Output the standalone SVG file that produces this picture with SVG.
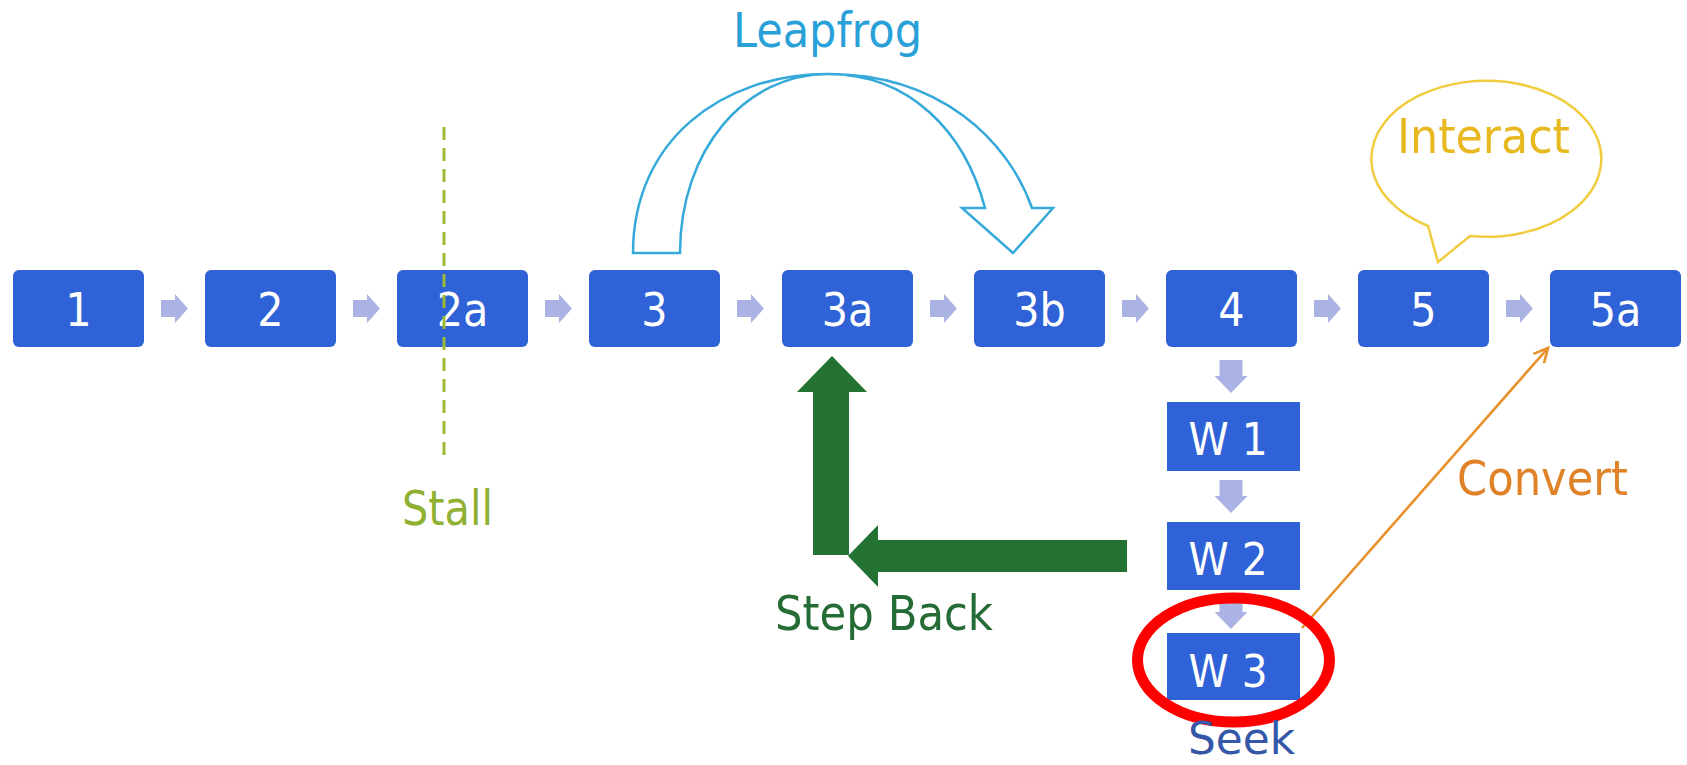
<svg xmlns="http://www.w3.org/2000/svg" xmlns:xlink="http://www.w3.org/1999/xlink" width="1687" height="765" viewBox="0 0 1687 765">
<style>
.box{fill:#2f62d6}
.bt{font-family:"DejaVu Sans Condensed","DejaVu Sans",sans-serif;font-stretch:condensed;font-size:46px;fill:#ffffff;text-anchor:middle}
.wt{font-family:"DejaVu Sans Condensed","DejaVu Sans",sans-serif;font-stretch:condensed;font-size:45px;fill:#ffffff;text-anchor:middle}
.lbl{font-family:"DejaVu Sans Condensed","DejaVu Sans",sans-serif;font-stretch:condensed;font-size:48px}
.sa{fill:#aab3e4}
</style>
<defs>
<path id="ha" d="M0,-8.5 H14 V-14.5 L27,0 L14,14.5 V8.5 H0 Z"/>
<path id="va" d="M-11.5,0 H11.5 V16 H16.5 L0,33 L-16.5,16 H-11.5 Z"/>
<marker id="openhead" viewBox="0 0 20 20" refX="17" refY="10" markerWidth="20" markerHeight="20" markerUnits="userSpaceOnUse" orient="auto">
<path d="M3,3 L17,10 L3,17" fill="none" stroke="#e8902a" stroke-width="2.6" stroke-linejoin="miter"/>
</marker>
</defs>
<rect width="1687" height="765" fill="#ffffff"/>

<g id="node-1"><rect class="box" x="13" y="270" width="131" height="77" rx="6"/><text class="bt" x="78.5" y="326">1</text></g>
<g id="node-2"><rect class="box" x="205" y="270" width="131" height="77" rx="6"/><text class="bt" x="270.5" y="326">2</text></g>
<g id="node-2a"><rect class="box" x="397" y="270" width="131" height="77" rx="6"/><text class="bt" x="462.5" y="326">2a</text></g>
<g id="node-3"><rect class="box" x="589" y="270" width="131" height="77" rx="6"/><text class="bt" x="654.5" y="326">3</text></g>
<g id="node-3a"><rect class="box" x="782" y="270" width="131" height="77" rx="6"/><text class="bt" x="847.5" y="326">3a</text></g>
<g id="node-3b"><rect class="box" x="974" y="270" width="131" height="77" rx="6"/><text class="bt" x="1039.5" y="326">3b</text></g>
<g id="node-4"><rect class="box" x="1166" y="270" width="131" height="77" rx="6"/><text class="bt" x="1231.5" y="326">4</text></g>
<g id="node-5"><rect class="box" x="1358" y="270" width="131" height="77" rx="6"/><text class="bt" x="1423.5" y="326">5</text></g>
<g id="node-5a"><rect class="box" x="1550" y="270" width="131" height="77" rx="6"/><text class="bt" x="1615.5" y="326">5a</text></g>
<g id="node-w1"><rect class="box" x="1167" y="402" width="133" height="69"/><text class="wt" x="1228" y="455" textLength="79" lengthAdjust="spacingAndGlyphs">W 1</text></g>
<g id="node-w2"><rect class="box" x="1167" y="522" width="133" height="68"/><text class="wt" x="1228" y="575" textLength="79" lengthAdjust="spacingAndGlyphs">W 2</text></g>
<g id="node-w3"><rect class="box" x="1167" y="633" width="133" height="67"/><text class="wt" x="1228" y="687" textLength="79" lengthAdjust="spacingAndGlyphs">W 3</text></g>

<g id="connectors">
<g class="sa">
<use xlink:href="#ha" x="161" y="308.5"/>
<use xlink:href="#ha" x="353" y="308.5"/>
<use xlink:href="#ha" x="545" y="308.5"/>
<use xlink:href="#ha" x="737" y="308.5"/>
<use xlink:href="#ha" x="930" y="308.5"/>
<use xlink:href="#ha" x="1122" y="308.5"/>
<use xlink:href="#ha" x="1314" y="308.5"/>
<use xlink:href="#ha" x="1506" y="308.5"/>
<use xlink:href="#va" x="1231" y="360"/>
<use xlink:href="#va" x="1231" y="480"/>
<use xlink:href="#va" x="1231" y="596"/>
</g>
<path id="leapfrog-arrow" d="M633,253 C633,142 720,74 828,74 C940,74 1008,140 1032,208 L1053,208 L1013,253 L962,208 L985,208 C965,132 910,74 828,74 C745,74 680,150 680,253 Z" fill="none" stroke="#35a9d9" stroke-width="2.5" stroke-linejoin="miter"/>
<g id="stepback-arrow" fill="#237232">
<path d="M832,356 L867,392 L849,392 L849,555 L813,555 L813,392 L797,392 Z"/>
<path d="M848,556 L878,525 L878,540 L1127,540 L1127,572 L878,572 L878,587 Z"/>
</g>
<line id="convert-arrow" x1="1302" y1="628" x2="1548" y2="348" stroke="#e8902a" stroke-width="2.6" marker-end="url(#openhead)"/>
</g>

<g id="stall">
<line x1="444" y1="127" x2="444" y2="457" stroke="#9cba34" stroke-width="3" stroke-dasharray="13,8"/>
<text class="lbl" x="402" y="525" fill="#8fb030" textLength="91" lengthAdjust="spacingAndGlyphs">Stall</text>
</g>
<g id="leapfrog-label"><text class="lbl" x="733" y="47" fill="#28a0d8" textLength="189" lengthAdjust="spacingAndGlyphs">Leapfrog</text></g>
<g id="interact">
<path d="M1428,226 A115,78 0 1 1 1470,236 L1438,262 Z" fill="#ffffff" stroke="#f0cc40" stroke-width="2.5"/>
<text class="lbl" x="1397" y="153" fill="#e8b820" textLength="173" lengthAdjust="spacingAndGlyphs">Interact</text>
</g>
<g id="stepback-label"><text class="lbl" x="775" y="630" fill="#246b35" textLength="218" lengthAdjust="spacingAndGlyphs">Step Back</text></g>
<g id="convert-label"><text class="lbl" x="1457" y="495" fill="#e08228" textLength="171" lengthAdjust="spacingAndGlyphs">Convert</text></g>
<g id="seek">
<ellipse cx="1233.5" cy="660" rx="96" ry="62" fill="none" stroke="#ff0000" stroke-width="11"/>
<text x="1188" y="754" fill="#3457a8" font-family="'DejaVu Sans Condensed','DejaVu Sans',sans-serif" font-stretch="condensed" font-size="45" textLength="107" lengthAdjust="spacingAndGlyphs">Seek</text>
</g>
</svg>
